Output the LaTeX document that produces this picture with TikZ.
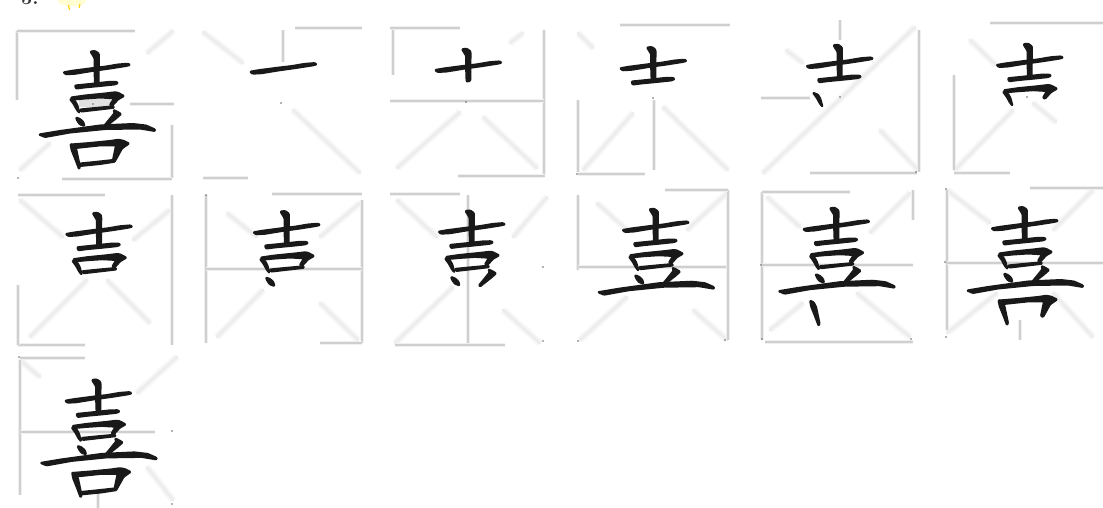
\documentclass[tikz,border=0pt]{standalone}
\usepackage{tikz}

\tikzset{
  griddiag/.style={black!7,line width=3pt,line cap=round,preaction={draw,black!3,line width=7pt}},
  griddark/.style={black!19,line width=1.1pt,preaction={draw,black!6,line width=3.6pt}},
  inkstroke/.style={fill=black!90,draw=black!90,line width=2pt,line join=round,rounded corners=.8pt},
  speck/.style={fill=black!60,inner sep=0pt,minimum size=1.8pt,circle},
}
\newcommand\inkpath[1]{%
  \ifcase#1\or
  \path[inkstroke] (63.5,72.3)--(72,70.8)--(92,68.2)--(105,66.7)--(118,64.5)--(128,63.7)--(130,65)--(126,66)--(110,68.5)--(92,71)--(75,73.8)--(66,74.3)--cycle;\or
  \path[inkstroke] (90.5,51.5)--(95,51)--(98.7,53.5)--(99,56)--(98.7,70)--(98.7,83)--(95,84)--(94.5,70)--(94.5,58)--(92,54)--cycle;\or
  \path[inkstroke] (75,85.5)--(90,84)--(108,82)--(116,81.8)--(118,83)--(115,84.4)--(100,86)--(85,87.4)--(76,88.6)--cycle;\or
  \path[inkstroke] (70,99)--(75,101)--(77.3,105)--(79.5,113)--(77,110)--(73.7,104)--cycle;\or
  \path[inkstroke] (71,97.5)--(85,95.5)--(105,93.5)--(115,92.3)--(118,92.8)--(124,96)--(118,99.4)--(112,106)--(110,105)--(114,98.3)--(100,97.5)--(85,98.5)--(72,99.7)--cycle;\or
  \path[inkstroke] (80,109.5)--(95,108)--(113.5,106.3)--(114,107.8)--(95,110)--(81,111.6)--cycle;\or
  \path[inkstroke] (76,117.5)--(80,119)--(83.3,122)--(84.5,126)--(80,124.4)--(77.4,121)--cycle;\or
  \path[inkstroke] (113.5,110)--(117,111.6)--(121,114)--(116,118.4)--(105,127)--(104,126)--(110.6,118)--(114.6,113)--cycle;\or
  \path[inkstroke] (39,134.5)--(60,131)--(100,125.5)--(133,124)--(146,125.5)--(155,129.5)--(155,131)--(140,128.5)--(105,129)--(70,132.5)--(45,137)--cycle;\or
  \path[inkstroke] (70.5,144)--(74,145.6)--(76.4,150)--(80,167)--(79,169)--(75.6,160)--(71.6,150)--cycle;\or
  \path[inkstroke] (71,144.5)--(90,143)--(110,141)--(118,139.8)--(123,140.6)--(129,143.5)--(122,148.4)--(115,161)--(113,160)--(116,145.4)--(100,145.4)--(85,147)--(73,148.3)--cycle;\or
  \path[inkstroke] (80,163.5)--(95,162)--(115,159.8)--(115,161.7)--(100,164)--(80,166)--cycle;\fi}

\begin{document}
\begin{tikzpicture}[x=1pt,y=-1pt]
  \clip (0,0) rectangle (1103,508);
  \fill[white] (0,0) rectangle (1103,508);
  \foreach \xa/\ya/\xb/\yb in {173/31/147/53,20/170/50/143,203/32/243/63,293/110/360/173,
    397/168/460/112,483/117/537/168,510/43/523/33,583/170/633/113,663/107/728/170,578/33/593/48,
    763/173/915/27,880/130/918/170,786/50/803/63,955/170/1013/110,970/40/996/65,1033/103/1056/122,
    30/337/87/280,20/200/63/237,107/280/150/323,133/240/170/210,217/337/263/290,227/213/257/237,
    320/303/358/340,320/237/360/203,395/343/453/287,397/200/437/237,503/310/540/343,513/237/547/197,
    580/340/627/297,597/203/627/230,687/230/727/193,693/310/727/340,767/197/800/227,870/233/910/193,
    770/330/803/303,857/293/910/337,947/190/990/223,947/333/997/293,1053/230/1093/190,1053/293/1093/337,
    137/393/177/357,20/360/40/377,147/467/173/500}
    \draw[griddiag] (\xa,\ya)--(\xb,\yb);
  \foreach \xa/\ya/\xb/\yb in {17/31/17/100,17/31/135/31,130/104/174/104,172/125/172/178,62/179/172/179,
    283/30/283/62,295/28/362/28,203/178/248/178,
    390/28/460/28,544/30/544/175,390/101/544/101,458/176/545/176,393/30/393/75,
    578/100/578/172,654/100/654/170,620/25/730/25,578/174/645/174,
    761/98/810/98,919/30/919/172,810/173/917/173,840/20/840/40,
    954/75/954/170,990/23/1103/23,954/173/1010/173,
    172/195/172/345,18/195/105/195,18/345/85/345,18/285/18/345,
    206/195/206/343,272/194/362/194,362/200/362/343,206/269/362/269,320/343/362/343,
    390/194/460/194,468/195/468/343,395/345/505/345,
    578/195/578/270,578/267/728/267,728/190/728/340,665/190/728/190,
    762/192/762/340,762/192/850/192,765/342/913/342,762/265/913/265,913/190/913/220,
    947/190/947/330,1030/188/1103/188,947/263/1103/263,1020/320/1020/340,
    20/360/20/495,20/432/155/432,20/358/85/358,98/490/98/508}
    \draw[griddark] (\xa,\ya)--(\xb,\yb);
  \fill[black!12] (79,99) rectangle (111,107);
  \foreach \cx/\cy/\n in {0/0/12,186.6/-.6/1,371.6/-2.3/2,556.6/-4/3,743/-6.3/4,933/-7.3/5,
    2.3/161.7/6,190/160/7,375/159.4/8,559/157.7/9,739.6/156.7/10,928/156/11,1.6/328.4/12} {
    \begin{scope}[shift={(\cx,\cy)}]
      \foreach \k in {1,...,\n} {\inkpath{\k}}
    \end{scope}
  }
  \foreach \sx/\sy in {93/104,281/103,466/102,653/98,840/97,1027/97,18/178,206/195,543/267,543/341,
    578/341,725/340,761/265,762/339,911/339,945/262,946/337,946/189,19/357,172/431,172/504,577/174,916/172}
    \node[speck] at (\sx,\sy) {};
  \node[anchor=base west,inner sep=0pt,black!80] (number) at (21,5) {\fontsize{20}{20}\selectfont\bfseries 5.};
  \fill[yellow!18] (72,1) ellipse (14 and 5);
  \draw[yellow!75!orange,line width=1.2pt] (68.5,5)--(69.5,10) (80,4)--(79,8);
\end{tikzpicture}
\end{document}
